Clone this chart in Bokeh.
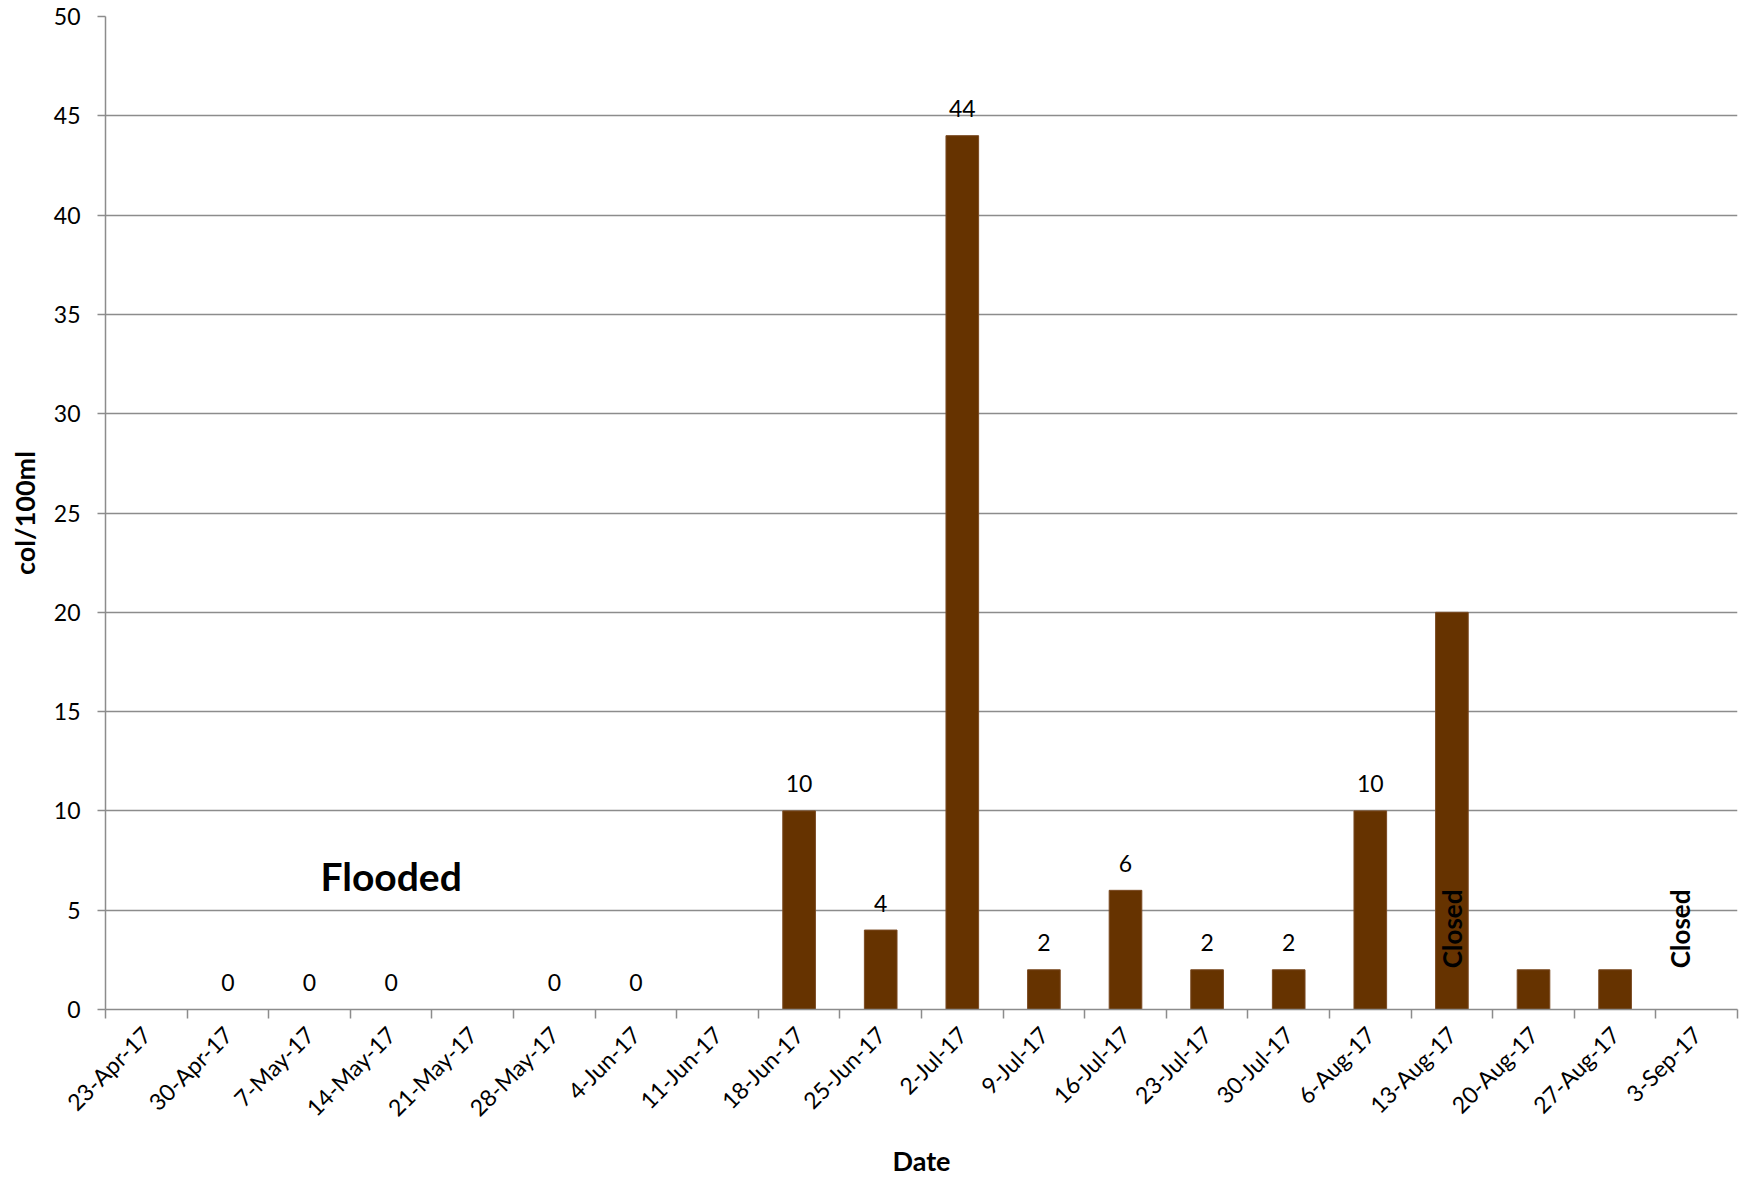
import math
from bokeh.plotting import figure
from bokeh.models import FactorRange, FixedTicker, LinearAxis, CategoricalAxis
from bokeh.core.properties import value
from bokeh.embed import file_html
from bokeh.resources import INLINE

# ---- data ----
dates = ["23-Apr-17", "30-Apr-17", "7-May-17", "14-May-17", "21-May-17", "28-May-17",
         "4-Jun-17", "11-Jun-17", "18-Jun-17", "25-Jun-17", "2-Jul-17", "9-Jul-17",
         "16-Jul-17", "23-Jul-17", "30-Jul-17", "6-Aug-17", "13-Aug-17", "20-Aug-17",
         "27-Aug-17", "3-Sep-17"]
counts = [None, 0, 0, 0, None, 0, 0, None, 10, 4, 44, 2, 6, 2, 2, 10, 20, 2, 2, None]
value_labels = ["", "0", "0", "0", "", "0", "0", "", "10", "4", "44", "2", "6", "2", "2",
                "10", "", "", "", ""]
closed_dates = ["13-Aug-17", "3-Sep-17"]
closed_y = [2.08, 2.08]
flooded_date = ["14-May-17"]
flooded_y = [6.7]
y_ticks = [0, 5, 10, 15, 20, 25, 30, 35, 40, 45, 50]

FONT = "Lato"
GRID = "#8c8c8c"

p = figure(x_range=FactorRange(factors=dates, range_padding=0), y_range=(0, 50),
           width=1739, height=1180, output_backend="svg", toolbar_location=None,
           x_axis_location=None,
           min_border_left=105, min_border_right=2, min_border_top=16, min_border_bottom=168)
p.outline_line_color = None
p.background_fill_color = "white"
p.border_fill_color = "white"

bar_x = [d for d, c in zip(dates, counts) if c is not None]
bar_top = [c for c in counts if c is not None]
p.vbar(x=bar_x, top=bar_top, width=0.4, fill_color="#663300", line_color="#7a4a22", line_width=1)

lab_x = [d for d, t in zip(dates, value_labels) if t]
lab_y = [c for c, t in zip(counts, value_labels) if t]
lab_t = [t for t in value_labels if t]
p.text(x=lab_x, y=lab_y, text=lab_t, text_font=value(FONT), text_font_size="23px",
       text_align="center", text_baseline="middle", y_offset=-27, text_color="black")

p.text(x=closed_dates[:1], y=closed_y[:1], text=["Closed"], angle=math.pi / 2,
       text_font=value(FONT), text_font_style="bold", text_font_size="26px",
       text_align="left", text_baseline="middle", text_color="black")
p.text(x=closed_dates[1:], y=closed_y[1:], text=["Closed"], angle=math.pi / 2,
       text_font=value(FONT), text_font_style="bold", text_font_size="26px",
       text_align="left", text_baseline="middle", x_offset=-17, text_color="black")

p.text(x=flooded_date, y=flooded_y, text=["Flooded"], text_font=value(FONT),
       text_font_style="bold", text_font_size="39px", text_align="center",
       text_baseline="middle", text_color="black")

# grid
p.xgrid.grid_line_color = None
p.ygrid.grid_line_color = GRID
p.ygrid.grid_line_width = 1.5
p.yaxis.ticker = FixedTicker(ticks=y_ticks)

# x axis: tick marks between categories (first, nearest the frame)
boundaries = list(range(len(dates) + 1))
tick_axis = LinearAxis(ticker=FixedTicker(ticks=boundaries))
tick_axis.axis_line_color = GRID
tick_axis.axis_line_width = 1.5
tick_axis.major_tick_line_color = GRID
tick_axis.major_tick_line_width = 1.5
tick_axis.major_tick_in = 0
tick_axis.major_tick_out = 9
tick_axis.minor_tick_line_color = None
tick_axis.major_label_overrides = {b: "" for b in boundaries}
tick_axis.major_label_text_color = None
tick_axis.major_label_text_font_size = "1px"
tick_axis.major_label_standoff = 0
p.add_layout(tick_axis, "below")

# x axis: category labels
cat_axis = CategoricalAxis()
cat_axis.axis_line_color = None
cat_axis.major_tick_line_color = None
cat_axis.major_tick_out = 0
cat_axis.major_tick_in = 0
cat_axis.major_label_standoff = 12
cat_axis.major_label_text_font = FONT
cat_axis.major_label_text_font_size = "23px"
cat_axis.major_label_text_color = "black"
cat_axis.major_label_orientation = math.pi / 4
cat_axis.axis_label = "Date"
cat_axis.axis_label_text_font = FONT
cat_axis.axis_label_text_font_style = "bold"
cat_axis.axis_label_text_font_size = "27px"
cat_axis.axis_label_text_color = "black"
cat_axis.axis_label_standoff = 10
p.add_layout(cat_axis, "below")

# y axis
ya = p.yaxis[0]
ya.axis_line_color = GRID
ya.axis_line_width = 1.5
ya.major_tick_line_color = GRID
ya.major_tick_line_width = 1.5
ya.minor_tick_line_color = None
ya.major_tick_in = 0
ya.major_tick_out = 8
ya.major_label_standoff = 17
ya.major_label_text_font = FONT
ya.major_label_text_font_size = "23px"
ya.major_label_text_color = "black"
ya.axis_label = "col/100ml"
ya.axis_label_text_font = FONT
ya.axis_label_text_font_style = "bold"
ya.axis_label_text_font_size = "27px"
ya.axis_label_text_color = "black"
ya.axis_label_standoff = 10

open("out.html", "w").write(file_html(p, INLINE))
